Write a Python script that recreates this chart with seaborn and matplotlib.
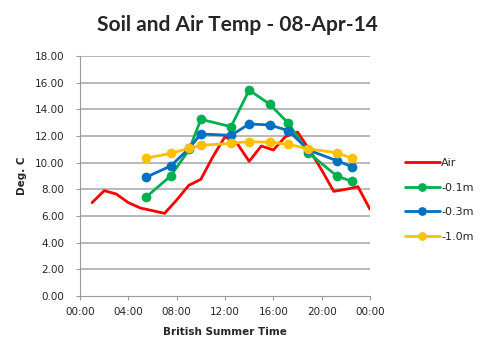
"""Soil and air temperature profile for 08-Apr-14."""

import matplotlib
matplotlib.use("Agg")
import matplotlib.pyplot as plt
import pandas as pd
import seaborn as sns

# air temperature, hourly (hours after midnight)
air_hours = [1, 2, 3, 4, 5, 6, 7, 8, 9, 10, 11, 12, 13, 14, 15, 16, 17, 18, 19, 20, 21, 22, 23, 24]
air_temp = [7.0, 7.9, 7.65, 7.0, 6.6, 6.4, 6.2, 7.2, 8.3, 8.75, 10.45, 11.95,
            11.45, 10.1, 11.25, 10.95, 11.95, 12.3, 10.95, 9.45, 7.85, 8.0, 8.2, 6.5]

# soil probe readings (hours after midnight)
soil_hours = [5.45, 7.5, 9.05, 10.0, 12.5, 14.0, 15.7, 17.25, 18.9, 21.25, 22.5]
soil_01 = [7.4, 9.0, 11.0, 13.25, 12.7, 15.45, 14.38, 12.95, 10.75, 9.0, 8.6]
soil_03 = [8.9, 9.75, 11.08, 12.15, 12.05, 12.9, 12.83, 12.4, 10.95, 10.15, 9.7]
soil_10 = [10.33, 10.7, 11.08, 11.3, 11.45, 11.58, 11.53, 11.38, 11.03, 10.75, 10.33]

x_ticks = [0, 4, 8, 12, 16, 20, 24]
x_tick_labels = ["00:00", "04:00", "08:00", "12:00", "16:00", "20:00", "00:00"]

COLORS = {"Air": "#FF0000", "-0.1m": "#00B050", "-0.3m": "#0070C0", "-1.0m": "#FFC000"}

sns.set_theme(style="white", rc={"axes.edgecolor": "#9A9A9A"})
plt.rcParams["font.family"] = ["DejaVu Sans"]

air = pd.DataFrame({"hour": air_hours, "temp": air_temp, "series": "Air"})
soil = pd.concat([
    pd.DataFrame({"hour": soil_hours, "temp": vals, "series": name})
    for name, vals in [("-0.1m", soil_01), ("-0.3m", soil_03), ("-1.0m", soil_10)]
])

fig = plt.figure(figsize=(4.8, 3.57), dpi=100)
ax = fig.add_axes([80 / 480, 1 - 296 / 357, 290 / 480, 240 / 357])

for y in range(2, 19, 2):
    ax.axhline(y, color="#ADADAD", lw=1.2, zorder=0)

sns.lineplot(data=air, x="hour", y="temp", color=COLORS["Air"], lw=2.0, label="Air", ax=ax)
for name in ["-0.1m", "-0.3m", "-1.0m"]:
    sub = soil[soil["series"] == name]
    sns.lineplot(data=sub, x="hour", y="temp", color=COLORS[name], lw=2.0, marker="o",
                 markersize=7, markeredgewidth=0, label=name, ax=ax)

ax.set_xlim(0, 24)
ax.set_ylim(0, 18)
ax.set_xticks(x_ticks)
ax.set_xticklabels(x_tick_labels)
ax.set_yticks(range(0, 19, 2))
ax.set_yticklabels([f"{v:.2f}" for v in range(0, 19, 2)])
ax.tick_params(axis="both", labelsize=7.5, length=3, width=0.8, color="#9A9A9A", direction="out",
               bottom=True, left=True)
ax.tick_params(axis="x", pad=5)
ax.tick_params(axis="y", pad=8)
sns.despine(ax=ax)
ax.spines["left"].set_linewidth(0.8)
ax.spines["bottom"].set_linewidth(0.8)

ax.set_xlabel("British Summer Time", fontsize=7.5, fontweight="bold", labelpad=7)
ax.set_ylabel("Deg. C", fontsize=7.5, fontweight="bold", labelpad=6)

fig.text(0.495, 0.93, "Soil and Air Temp - 08-Apr-14", ha="center", va="center",
         fontsize=15, fontweight="bold", family=["Lato", "DejaVu Sans"])

ax.legend(loc="center left", bbox_to_anchor=(1.085, 0.40), frameon=False, fontsize=8,
          handlelength=3.2, handletextpad=0.1, labelspacing=1.3, markerscale=0.9)

fig.savefig("out.png", dpi=100)
